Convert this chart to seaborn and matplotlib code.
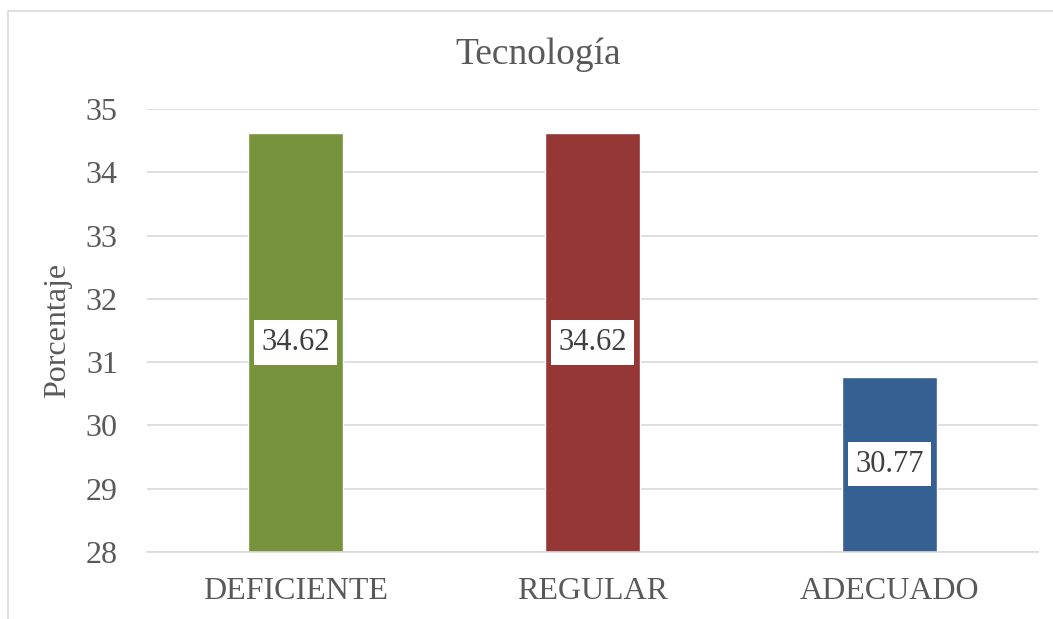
import matplotlib.pyplot as plt
import seaborn as sns
import pandas as pd
from matplotlib.patches import Rectangle

# Data
categories = ["DEFICIENTE", "REGULAR", "ADECUADO"]
porcentaje = [34.62, 34.62, 30.77]
bar_colors = ["#77933C", "#953735", "#376092"]

df = pd.DataFrame({"nivel": categories, "porcentaje": porcentaje})

sns.set_style("white")
plt.rcParams["font.family"] = ["Liberation Serif", "DejaVu Serif"]
text_color = "#595959"
grid_color = "#d9d9d9"

fig = plt.figure(figsize=(10.53, 6.19), dpi=100)
ax = fig.add_axes([147 / 1053, 1 - 552 / 619, 891 / 1053, 443 / 619])

sns.barplot(data=df, x="nivel", y="porcentaje", hue="nivel",
            palette=dict(zip(categories, bar_colors)), width=0.32,
            saturation=1, legend=False, ax=ax)

ax.set_ylim(28, 35)
ax.set_xlim(-0.5, 2.5)
ax.set_yticks(range(28, 36))
ax.grid(axis="y", color=grid_color, linewidth=1.2)
ax.set_axisbelow(True)
for s in ["top", "right", "left"]:
    ax.spines[s].set_visible(False)
ax.spines["bottom"].set_color(grid_color)
ax.spines["bottom"].set_linewidth(1.2)
ax.tick_params(axis="both", length=0, labelsize=23, colors=text_color)
ax.tick_params(axis="x", pad=18)
ax.tick_params(axis="y", pad=21)

ax.set_xlabel("")
ax.set_ylabel("Porcentaje", fontsize=23, color=text_color)
ax.yaxis.set_label_coords(-0.084, 0.5)

# value labels in white boxes at the middle of each bar
for i, v in enumerate(porcentaje):
    ax.text(i, (28 + v) / 2, f"{v:.2f}", ha="center", va="center",
            fontsize=22, color="#404040",
            bbox=dict(boxstyle="square,pad=0.25", fc="white", ec="none"))

fig.text(538 / 1053, 1 - 55 / 619, "Tecnología", ha="center", va="center",
         fontsize=27, color=text_color)

# chart border (cut off on right and bottom)
fig.patches.append(Rectangle((8 / 1053, -0.1), 2, 1.1 - 11 / 619,
                             transform=fig.transFigure, fill=False,
                             ec=grid_color, lw=1.2))

fig.savefig("out.png", dpi=100)
